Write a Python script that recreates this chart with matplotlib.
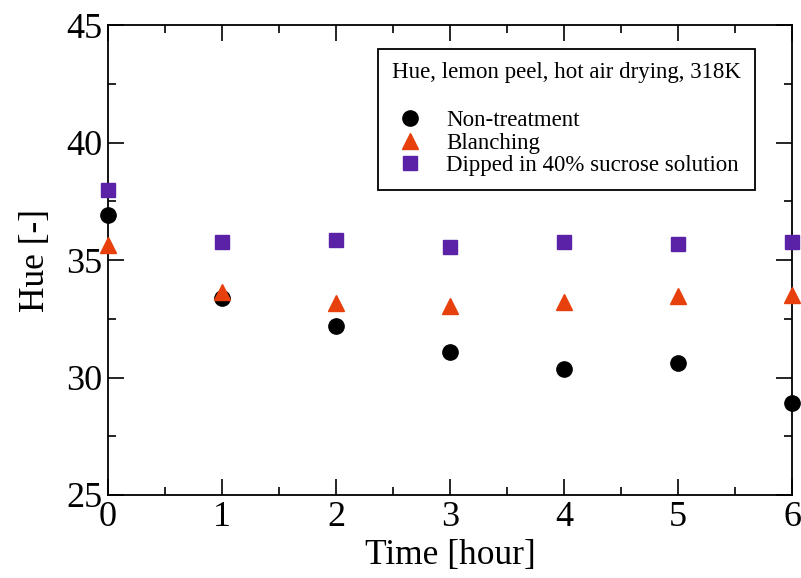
import matplotlib
matplotlib.use('Agg')
import matplotlib.pyplot as plt
from matplotlib.ticker import MultipleLocator

plt.rcParams['font.family'] = ['Liberation Serif', 'DejaVu Serif']

# data
time_h = [0, 1, 2, 3, 4, 5, 6]
hue_non = [36.9, 33.4, 32.2, 31.1, 30.35, 30.6, 28.9]
hue_blanch = [35.65, 33.65, 33.15, 33.05, 33.2, 33.45, 33.5]
hue_sucrose = [38.0, 35.75, 35.85, 35.55, 35.75, 35.7, 35.75]

fig = plt.figure(figsize=(8.01, 5.78), dpi=100)
ax = fig.add_axes([0.1348, 0.1436, 0.854, 0.8131])

ax.plot(time_h, hue_non, 'o', color='black', ms=11, clip_on=False, zorder=3,
        label='Non-treatment')
ax.plot(time_h, hue_blanch, '^', color='#E8400C', ms=11.5, clip_on=False, zorder=3,
        label='Blanching')
ax.plot(time_h, hue_sucrose, 's', color='#5B22A8', ms=9.5, clip_on=False, zorder=3,
        label='Dipped in 40% sucrose solution')

ax.set_xlim(0, 6)
ax.set_ylim(25, 45)
ax.xaxis.set_major_locator(MultipleLocator(1))
ax.xaxis.set_minor_locator(MultipleLocator(0.5))
ax.yaxis.set_major_locator(MultipleLocator(5))
ax.yaxis.set_minor_locator(MultipleLocator(2.5))
ax.tick_params(which='both', direction='in', top=True, right=True, width=1.2,
               labelsize=26, pad=4)
ax.tick_params(which='major', length=11.5)
ax.tick_params(which='minor', length=6)
for s in ax.spines.values():
    s.set_linewidth(1.3)

ax.set_xlabel('Time [hour]', fontsize=25.5, labelpad=4)
ax.set_ylabel('Hue [-]', fontsize=25.5, labelpad=10)

leg = ax.legend(title='Hue, lemon peel, hot air drying, 318K', loc='upper left',
                bbox_to_anchor=(0.395, 0.95), fontsize=16.5, title_fontsize=16.5,
                fancybox=False, edgecolor='black', framealpha=1,
                handlelength=1.4, handletextpad=0.9, labelspacing=0.08,
                borderpad=0.6, borderaxespad=0)
leg.get_frame().set_linewidth(1.3)
leg._legend_box.sep = 19

fig.savefig('out.png', dpi=100)
